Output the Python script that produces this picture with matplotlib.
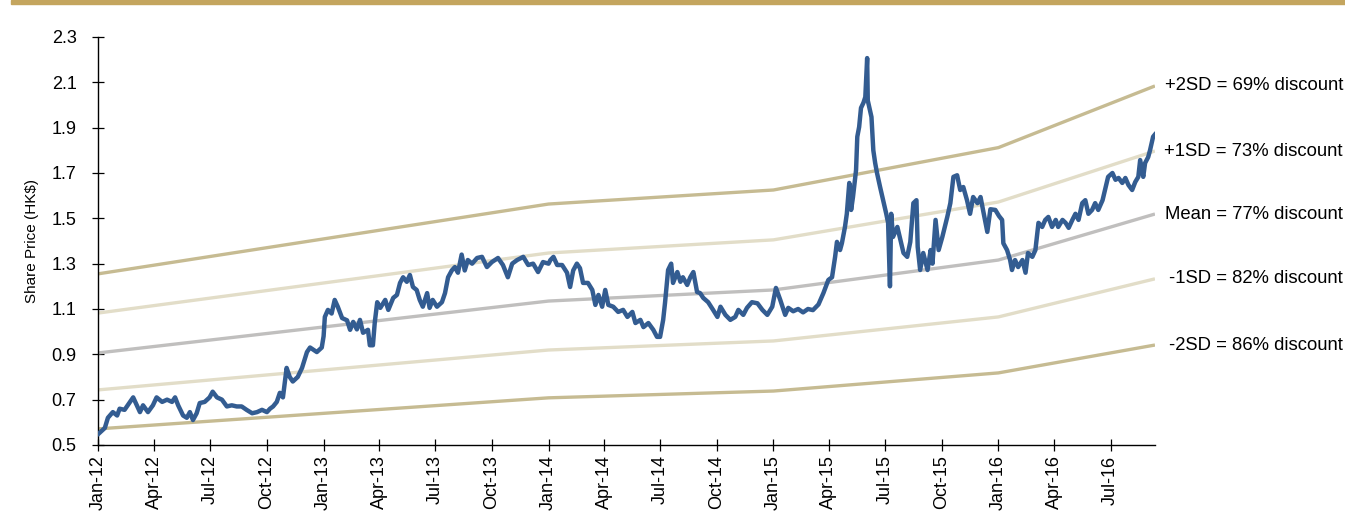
import matplotlib
matplotlib.use("Agg")
import matplotlib.pyplot as plt
import matplotlib.dates as mdates
import matplotlib.transforms as mtransforms
from matplotlib.patches import Rectangle
import pandas as pd

plt.rcParams["font.family"] = ["Liberation Sans", "DejaVu Sans"]

# Share price (HK$), sampled closes
price_dates = [
    "2012-01-02", "2012-01-12", "2012-01-17", "2012-01-25", "2012-02-01", "2012-02-05",
    "2012-02-13", "2012-02-22", "2012-02-27", "2012-03-04", "2012-03-09", "2012-03-14",
    "2012-03-22", "2012-03-30", "2012-04-05", "2012-04-14", "2012-04-22", "2012-04-30",
    "2012-05-05", "2012-05-10", "2012-05-18", "2012-05-24", "2012-05-29", "2012-06-03",
    "2012-06-09", "2012-06-14", "2012-06-22", "2012-06-30", "2012-07-05", "2012-07-12",
    "2012-07-20", "2012-07-28", "2012-08-05", "2012-08-13", "2012-08-21", "2012-08-29",
    "2012-09-07", "2012-09-15", "2012-09-23", "2012-10-01", "2012-10-06", "2012-10-11",
    "2012-10-17", "2012-10-22", "2012-10-27", "2012-11-02", "2012-11-07", "2012-11-12",
    "2012-11-20", "2012-11-27", "2012-12-05", "2012-12-10", "2012-12-21", "2012-12-29",
    "2013-01-01", "2013-01-03", "2013-01-08", "2013-01-14", "2013-01-19", "2013-01-24",
    "2013-01-31", "2013-02-08", "2013-02-13", "2013-02-18", "2013-02-24", "2013-03-01",
    "2013-03-06", "2013-03-14", "2013-03-17", "2013-03-22", "2013-03-25", "2013-03-29",
    "2013-04-03", "2013-04-11", "2013-04-16", "2013-04-24", "2013-04-30", "2013-05-05",
    "2013-05-10", "2013-05-16", "2013-05-21", "2013-05-26", "2013-06-01", "2013-06-06",
    "2013-06-11", "2013-06-18", "2013-06-22", "2013-06-27", "2013-07-04", "2013-07-12",
    "2013-07-17", "2013-07-22", "2013-07-28", "2013-08-02", "2013-08-07", "2013-08-13",
    "2013-08-18", "2013-08-23", "2013-08-30", "2013-09-07", "2013-09-15", "2013-09-23",
    "2013-10-01", "2013-10-11", "2013-10-19", "2013-10-27", "2013-11-03", "2013-11-11",
    "2013-11-21", "2013-11-29", "2013-12-07", "2013-12-15", "2013-12-23", "2014-01-01",
    "2014-01-04", "2014-01-09", "2014-01-15", "2014-01-23", "2014-01-31", "2014-02-05",
    "2014-02-10", "2014-02-16", "2014-02-21", "2014-02-26", "2014-03-06", "2014-03-13",
    "2014-03-18", "2014-03-23", "2014-03-29", "2014-04-03", "2014-04-08", "2014-04-16",
    "2014-04-24", "2014-05-02", "2014-05-09", "2014-05-17", "2014-05-22", "2014-05-30",
    "2014-06-04", "2014-06-12", "2014-06-20", "2014-06-26", "2014-07-01", "2014-07-06",
    "2014-07-09", "2014-07-14", "2014-07-19", "2014-07-22", "2014-07-29", "2014-08-03",
    "2014-08-07", "2014-08-14", "2014-08-19", "2014-08-24", "2014-08-30", "2014-09-04",
    "2014-09-09", "2014-09-17", "2014-09-25", "2014-10-02", "2014-10-07", "2014-10-15",
    "2014-10-23", "2014-10-31", "2014-11-05", "2014-11-13", "2014-11-19", "2014-11-27",
    "2014-12-06", "2014-12-14", "2014-12-22", "2014-12-30", "2015-01-05", "2015-01-12",
    "2015-01-20", "2015-01-25", "2015-02-02", "2015-02-10", "2015-02-18", "2015-02-26",
    "2015-03-06", "2015-03-15", "2015-03-23", "2015-03-31", "2015-04-06", "2015-04-11",
    "2015-04-14", "2015-04-19", "2015-04-22", "2015-04-27", "2015-04-30", "2015-05-04",
    "2015-05-07", "2015-05-10", "2015-05-15", "2015-05-17", "2015-05-20", "2015-05-23",
    "2015-05-27", "2015-05-30", "2015-06-02", "2015-06-03", "2015-06-09", "2015-06-12",
    "2015-06-15", "2015-06-18", "2015-06-23", "2015-06-28", "2015-07-03", "2015-07-06",
    "2015-07-09", "2015-07-11", "2015-07-14", "2015-07-21", "2015-07-26", "2015-07-31",
    "2015-08-06", "2015-08-11", "2015-08-16", "2015-08-21", "2015-08-23", "2015-08-27",
    "2015-09-01", "2015-09-08", "2015-09-13", "2015-09-16", "2015-09-21", "2015-09-26",
    "2015-10-02", "2015-10-10", "2015-10-15", "2015-10-20", "2015-10-26", "2015-10-31",
    "2015-11-05", "2015-11-11", "2015-11-16", "2015-11-21", "2015-11-28", "2015-12-03",
    "2015-12-07", "2015-12-14", "2015-12-19", "2015-12-27", "2016-01-02", "2016-01-07",
    "2016-01-09", "2016-01-15", "2016-01-20", "2016-01-23", "2016-01-28", "2016-02-02",
    "2016-02-09", "2016-02-14", "2016-02-18", "2016-02-25", "2016-03-01", "2016-03-06",
    "2016-03-12", "2016-03-17", "2016-03-22", "2016-03-28", "2016-04-03", "2016-04-07",
    "2016-04-14", "2016-04-19", "2016-04-24", "2016-04-30", "2016-05-05", "2016-05-10",
    "2016-05-16", "2016-05-21", "2016-05-26", "2016-06-01", "2016-06-06", "2016-06-11",
    "2016-06-18", "2016-06-22", "2016-06-27", "2016-07-04", "2016-07-09", "2016-07-14",
    "2016-07-20", "2016-07-25", "2016-07-30", "2016-08-05", "2016-08-10", "2016-08-15",
    "2016-08-18", "2016-08-23", "2016-08-26", "2016-08-31", "2016-09-03", "2016-09-08",
    "2016-09-11",
]
price_values = [
    0.55, 0.575, 0.62, 0.645, 0.63, 0.66,
    0.655, 0.69, 0.71, 0.675, 0.645, 0.675,
    0.645, 0.675, 0.71, 0.69, 0.70, 0.69,
    0.71, 0.675, 0.63, 0.62, 0.645, 0.61,
    0.64, 0.685, 0.69, 0.71, 0.735, 0.71,
    0.70, 0.67, 0.675, 0.67, 0.67, 0.655,
    0.64, 0.645, 0.655, 0.645, 0.66, 0.67,
    0.69, 0.73, 0.71, 0.84, 0.80, 0.78,
    0.80, 0.84, 0.91, 0.93, 0.91, 0.93,
    0.98, 1.065, 1.096, 1.08, 1.14, 1.11,
    1.06, 1.05, 1.008, 1.043, 1.01, 1.052,
    0.995, 1.008, 0.94, 0.94, 1.04, 1.13,
    1.105, 1.14, 1.096, 1.149, 1.162, 1.215,
    1.24, 1.22, 1.25, 1.197, 1.184, 1.14,
    1.11, 1.17, 1.105, 1.14, 1.11, 1.13,
    1.17, 1.24, 1.27, 1.285, 1.26, 1.34,
    1.27, 1.316, 1.30, 1.325, 1.33, 1.285,
    1.307, 1.325, 1.294, 1.24, 1.30, 1.316,
    1.33, 1.294, 1.30, 1.263, 1.307, 1.30,
    1.316, 1.33, 1.294, 1.294, 1.26, 1.197,
    1.27, 1.30, 1.28, 1.215, 1.215, 1.184,
    1.118, 1.162, 1.11, 1.184, 1.118, 1.11,
    1.087, 1.096, 1.065, 1.087, 1.038, 1.052,
    1.02, 1.038, 1.008, 0.977, 0.977, 1.052,
    1.127, 1.272, 1.30, 1.215, 1.263, 1.22,
    1.24, 1.206, 1.24, 1.263, 1.175, 1.17,
    1.149, 1.13, 1.096, 1.065, 1.11, 1.074,
    1.052, 1.065, 1.096, 1.074, 1.105, 1.13,
    1.125, 1.096, 1.074, 1.11, 1.193, 1.14,
    1.074, 1.105, 1.09, 1.10, 1.085, 1.10,
    1.095, 1.12, 1.17, 1.228, 1.24, 1.33,
    1.396, 1.36, 1.39, 1.462, 1.52, 1.656,
    1.537, 1.594, 1.713, 1.86, 1.903, 1.987,
    2.01, 2.035, 2.207, 2.02, 1.947, 1.80,
    1.744, 1.70, 1.638, 1.58, 1.52, 1.48,
    1.20, 1.52, 1.418, 1.462, 1.405, 1.347,
    1.33, 1.396, 1.567, 1.58, 1.374, 1.272,
    1.347, 1.272, 1.36, 1.30, 1.493, 1.36,
    1.418, 1.506, 1.567, 1.683, 1.69, 1.625,
    1.638, 1.58, 1.52, 1.594, 1.567, 1.594,
    1.537, 1.44, 1.54, 1.537, 1.51, 1.493,
    1.39, 1.36, 1.316, 1.272, 1.316, 1.285,
    1.316, 1.26, 1.347, 1.33, 1.36, 1.48,
    1.462, 1.493, 1.506, 1.462, 1.493, 1.462,
    1.493, 1.48, 1.458, 1.493, 1.52, 1.493,
    1.567, 1.58, 1.52, 1.537, 1.567, 1.537,
    1.58, 1.625, 1.683, 1.70, 1.67, 1.678,
    1.656, 1.678, 1.647, 1.625, 1.66, 1.683,
    1.757, 1.683, 1.744, 1.77, 1.80, 1.86,
    1.87,
]

# Valuation bands (price implied by discount to NAV)
band_dates = ["2012-01-01", "2014-01-01", "2015-01-01", "2016-01-01", "2016-09-11"]
plus2sd = [1.255, 1.563, 1.625, 1.812, 2.084]
plus1sd = [1.082, 1.347, 1.405, 1.572, 1.797]
mean_band = [0.906, 1.135, 1.184, 1.316, 1.519]
minus1sd = [0.743, 0.919, 0.959, 1.065, 1.233]
minus2sd = [0.571, 0.708, 0.738, 0.818, 0.941]

band_labels = [
    "+2SD = 69% discount",
    "+1SD = 73% discount",
    "Mean = 77% discount",
    "-1SD = 82% discount",
    "-2SD = 86% discount",
]
band_colors = ["#c6bb92", "#e2ddc8", "#c0bfbe", "#e2ddc8", "#c6bb92"]

y_ticks = [0.5, 0.7, 0.9, 1.1, 1.3, 1.5, 1.7, 1.9, 2.1, 2.3]

px = pd.to_datetime(price_dates)
bx = pd.to_datetime(band_dates)

fig = plt.figure(figsize=(13.45, 5.11), dpi=100)
ax = fig.add_axes([0.0729, 0.1292, 0.7858, 0.7984])

# gold rule across the top of the page
fig.patches.append(Rectangle((11 / 1345, 1 - 4.5 / 511), 1, 4.5 / 511,
                             transform=fig.transFigure, color="#c4a55e",
                             zorder=0))

bands = [plus2sd, plus1sd, mean_band, minus1sd, minus2sd]
for vals, col in zip(bands, band_colors):
    ax.plot(bx, vals, color=col, lw=2.4, solid_capstyle="butt", zorder=2)

ax.plot(px, price_values, color="#335c91", lw=3.2, solid_joinstyle="round",
        zorder=3)

label_tf = mtransforms.blended_transform_factory(fig.transFigure, ax.transData)
for vals, text in zip(bands, band_labels):
    ax.text(1343 / 1345, vals[-1], text, transform=label_tf, ha="right",
            va="center", fontsize=13.3, color="#000000", clip_on=False)

ax.set_xlim(pd.Timestamp("2012-01-01"), pd.Timestamp("2016-09-11"))
ax.set_ylim(0.5, 2.3)
ax.set_yticks(y_ticks)
ax.yaxis.set_major_formatter(plt.FuncFormatter(lambda v, _: f"{v:.1f}"))
ax.xaxis.set_major_locator(mdates.MonthLocator(bymonth=[1, 4, 7, 10]))
ax.xaxis.set_major_formatter(mdates.DateFormatter("%b-%y"))

for side in ("top", "right"):
    ax.spines[side].set_visible(False)
for side in ("left", "bottom"):
    ax.spines[side].set_linewidth(1.0)
    ax.spines[side].set_color("#000000")

ax.tick_params(axis="both", direction="inout", length=9, width=0.9,
               labelsize=13, colors="#000000")
ax.tick_params(axis="y", pad=11)
ax.tick_params(axis="x", pad=3)
for lab in ax.get_xticklabels():
    lab.set_rotation(90)

ax.set_ylabel("Share Price (HK$)", fontsize=11, labelpad=9)

fig.savefig("out.png", dpi=100)
